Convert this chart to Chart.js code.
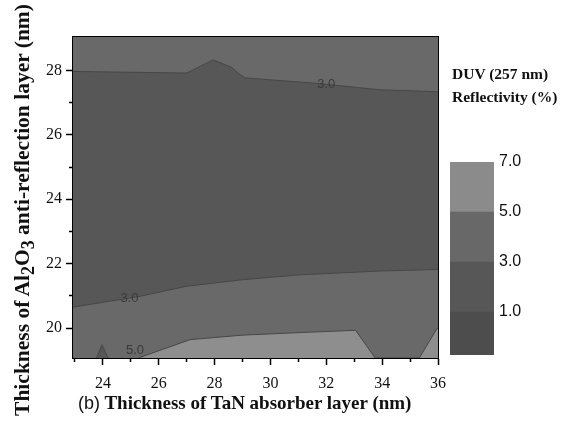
<!DOCTYPE html>
<html>
<head>
<meta charset="utf-8">
<script src="https://cdn.jsdelivr.net/npm/chart.js@4"></script>
<style>
  body { margin: 0; background: #fff; }
  #wrap { position: relative; width: 571px; height: 425px; overflow: hidden; }
  #myChart { position: absolute; left: 0; top: 0; }
  #barChart { position: absolute; left: 440px; top: 150px; }
  .ttl { position: absolute; font-family: "Liberation Serif", serif; font-weight: bold; color: #111; white-space: nowrap; }
  #duv { left: 452px; top: 62px; font-size: 15.5px; line-height: 23px; }
  #ytitle { left: -193px; top: 195px; width: 430px; height: 30px; line-height: 30px; font-size: 21.5px; text-align: center; transform: rotate(-90deg); }
  #xtitle { left: 78px; top: 392px; font-size: 19px; line-height: 22px; }
  #xtitle .b { font-family: "Liberation Sans", Arial, sans-serif; font-weight: normal; font-size: 18px; }
</style>
</head>
<body>
<div id="wrap">
  <canvas id="myChart" width="571" height="425"></canvas>
  <canvas id="barChart" width="131" height="220"></canvas>
  <div id="duv" class="ttl">DUV (257 nm)<br>Reflectivity (%)</div>
  <div id="ytitle" class="ttl">Thickness of Al<sub>2</sub>O<sub>3</sub> anti-reflection layer (nm)</div>
  <div id="xtitle" class="ttl"><span class="b">(b)</span> Thickness of TaN absorber layer (nm)</div>
</div>
<script>
// Contours de réflectivité (épaisseur TaN en x, épaisseur Al2O3 en y)
const xMin = 22.93, xMax = 36;
const yMin = 19.07, yMax = 29.04;

const edgeX = [22.93, 36];
const edgeY = [29.04, 29.04];

// frontière 3.0 du haut
const topX = [22.93, 27.0, 27.95, 28.6, 28.95, 29.1, 31.66, 33.93, 36];
const topY = [27.97, 27.92, 28.33, 28.1, 27.85, 27.77, 27.6, 27.4, 27.34];

// frontière 3.0 du milieu
const midX = [22.93, 25.3, 27, 29, 31, 33.9, 36];
const midY = [20.65, 20.98, 21.3, 21.5, 21.65, 21.77, 21.82];

// frontière 5.0 du bas
const lowX = [25.27, 27.12, 29, 31.06, 33.05, 33.75, 35.33, 35.96, 36];
const lowY = [19.07, 19.64, 19.78, 19.86, 19.93, 19.07, 19.07, 19.98, 20.0];

// petit triangle près de 24
const triX = [23.77, 23.97, 24.19];
const triY = [19.07, 19.48, 19.07];

const contourLabels = [
    { text: "3.0", x: 32.0, y: 27.58 },
    { text: "3.0", x: 24.95, y: 20.93 },
    { text: "5.0", x: 25.15, y: 19.3 }
];

const xTicks = [23, 24, 25, 26, 27, 28, 29, 30, 31, 32, 33, 34, 35, 36];
const xMajor = [24, 26, 28, 30, 32, 34, 36];
const yMajor = [20, 22, 24, 26, 28];
const yMinor = [21, 23, 25, 27];
const xMinor = xTicks.filter(v => xMajor.indexOf(v) < 0);

// barre de couleur
const levels = [-0.72, 1, 3, 5, 7];
const levelTicks = [1, 3, 5, 7];
const levelColors = ["#4d4d4d", "#575757", "#686868", "#8b8b8b"];

const colMid = "#696969", colDark = "#575757", colLight = "#8e8e8e";

function pts(xs, ys) {
    return xs.map((x, i) => ({ x: x, y: ys[i] }));
}

function area(label, xs, ys, color, line) {
    return {
        label: label,
        data: pts(xs, ys),
        backgroundColor: color,
        borderColor: "#474747",
        borderWidth: line ? 1 : 0,
        pointRadius: 0,
        tension: 0,
        fill: "start"
    };
}

const labelPlugin = {
    id: "contourLabels",
    afterDatasetsDraw(chart) {
        const ctx = chart.ctx;
        const sx = chart.scales.x, sy = chart.scales.y;
        ctx.save();
        ctx.font = "13px 'Liberation Sans', Arial, sans-serif";
        ctx.fillStyle = "#3a3a3a";
        ctx.textAlign = "center";
        ctx.textBaseline = "middle";
        contourLabels.forEach(l => {
            ctx.fillText(l.text, sx.getPixelForValue(l.x), sy.getPixelForValue(l.y));
        });
        ctx.restore();
    }
};

function setTicks(list) {
    return function (axis) { axis.ticks = list.map(v => ({ value: v })); };
}

const tickFont = { family: "'Liberation Serif', serif", size: 16 };

const config = {
    type: "line",
    data: {
        datasets: [
            area("tri", triX, triY, colDark, true),
            area("low", lowX, lowY, colLight, true),
            area("mid", midX, midY, colMid, true),
            area("top", topX, topY, colDark, true),
            area("edge", edgeX, edgeY, colMid, false)
        ]
    },
    options: {
        responsive: false,
        animation: false,
        layout: { padding: { left: 0, right: 133, top: 37, bottom: 0 } },
        plugins: { legend: { display: false }, tooltip: { enabled: false } },
        scales: {
            x: {
                type: "linear", position: "bottom", min: xMin, max: xMax, weight: 1,
                afterBuildTicks: setTicks(xMajor),
                afterFit: s => { s.height = 67; },
                ticks: { font: tickFont, color: "#111", padding: 9, maxRotation: 0, callback: v => v },
                grid: { drawOnChartArea: false, tickLength: 7, tickWidth: 1.5, tickColor: "#000" },
                border: { display: true, color: "#000", width: 2 }
            },
            xm: {
                type: "linear", position: "bottom", min: xMin, max: xMax, weight: 0,
                afterBuildTicks: setTicks(xMinor),
                afterFit: s => { s.height = 0; },
                ticks: { display: false },
                grid: { drawOnChartArea: false, tickLength: 4, tickWidth: 1.5, tickColor: "#000" },
                border: { display: false }
            },
            y: {
                type: "linear", position: "left", min: yMin, max: yMax, weight: 1,
                afterBuildTicks: setTicks(yMajor),
                afterFit: s => { s.width = 73; },
                ticks: { font: tickFont, color: "#111", padding: 4, callback: v => v },
                grid: { drawOnChartArea: false, tickLength: 7, tickWidth: 1.5, tickColor: "#000" },
                border: { display: true, color: "#000", width: 2 }
            },
            ym: {
                type: "linear", position: "left", min: yMin, max: yMax, weight: 0,
                afterBuildTicks: setTicks(yMinor),
                afterFit: s => { s.width = 0; },
                ticks: { display: false },
                grid: { drawOnChartArea: false, tickLength: 4, tickWidth: 1.5, tickColor: "#000" },
                border: { display: false }
            },
            x2: {
                type: "linear", position: "top",
                afterFit: s => { s.height = 0; },
                ticks: { display: false },
                grid: { drawOnChartArea: false, drawTicks: false },
                border: { display: true, color: "#000", width: 2 }
            },
            y2: {
                type: "linear", position: "right",
                afterFit: s => { s.width = 0; },
                ticks: { display: false },
                grid: { drawOnChartArea: false, drawTicks: false },
                border: { display: true, color: "#000", width: 2 }
            }
        }
    },
    plugins: [labelPlugin]
};

const myChart = new Chart(document.getElementById("myChart"), config);

// barre de couleur (barres flottantes superposées)
const barDatasets = levelColors.map((c, i) => ({
    label: levels[i] + "-" + levels[i + 1],
    data: [[levels[i], levels[i + 1]]],
    backgroundColor: c,
    borderWidth: 0,
    grouped: false,
    barPercentage: 1,
    categoryPercentage: 1
}));

const barChart = new Chart(document.getElementById("barChart"), {
    type: "bar",
    data: { labels: [""], datasets: barDatasets },
    options: {
        responsive: false,
        animation: false,
        layout: { padding: { left: 10, right: 0, top: 12, bottom: 15 } },
        plugins: { legend: { display: false }, tooltip: { enabled: false } },
        scales: {
            x: { display: false },
            y: {
                position: "right", min: levels[0], max: 7,
                afterBuildTicks: setTicks(levelTicks),
                afterFit: s => { s.width = 77; },
                ticks: {
                    font: { family: "'Liberation Sans', Arial, sans-serif", size: 16 },
                    color: "#111", padding: -3,
                    callback: v => Number(v).toFixed(1)
                },
                grid: { display: false },
                border: { display: false }
            }
        }
    }
});
</script>
</body>
</html>
